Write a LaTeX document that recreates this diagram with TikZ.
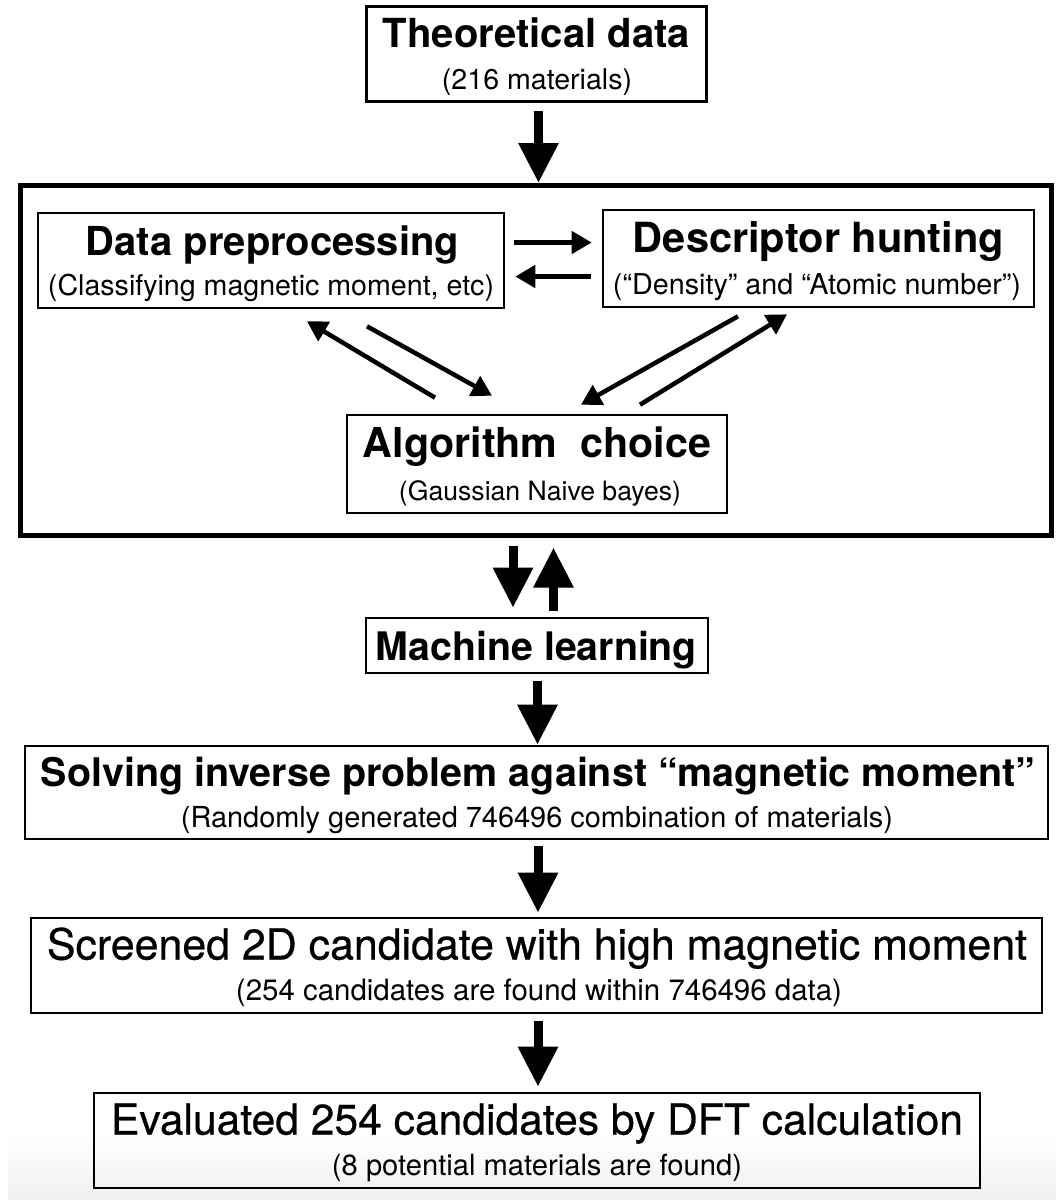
\documentclass[tikz,border=0pt]{standalone}
\usepackage{fontspec}
\setmainfont{TeX Gyre Heros}
\newfontfamily\medfont[FakeBold=0.6]{TeX Gyre Heros}
\usepackage{graphicx}
\usetikzlibrary{arrows.meta,calc}
% scale a line of text to a given width (in pt)
\newcommand\fitw[2]{\resizebox{#1pt}{!}{#2}}
\begin{document}
\begin{tikzpicture}[x=1pt,y=-1pt,
  box/.style={draw=black,line width=2.6pt,rectangle,inner sep=0pt},
  frame/.style={draw=black,line width=5pt,rectangle,inner sep=0pt},
  txt/.style={inner sep=0pt,anchor=base},
  ttl/.style={txt,font=\bfseries},
  mttl/.style={txt,font=\medfont},
  bigarrow/.style={line width=9pt,-{Triangle[width=38pt,length=40pt]}},
  smallarrow/.style={line width=4.5pt,-{Triangle[width=22pt,length=20pt]}}]
\useasboundingbox (0,0) rectangle (1056,1200);
% faint grey fade along the lower edge
\shade[top color=white,bottom color=black!6] (8,1135) rectangle (1056,1200);

% boxes
\node[box,minimum width=340pt,minimum height=95pt] (theo) at (536.7,54.2) {};
\node[frame,minimum width=1030.5pt,minimum height=349.5pt] (big) at (535.75,360.25) {};
\node[box,minimum width=466pt,minimum height=95pt] (data) at (271,260.5) {};
\node[box,minimum width=431pt,minimum height=97pt] (desc) at (818.5,258.5) {};
\node[box,minimum width=380pt,minimum height=98pt] (algo) at (537,464) {};
\node[box,minimum width=342pt,minimum height=55pt] (ml) at (537,645.5) {};
\node[box,minimum width=1023pt,minimum height=93pt] (solve) at (536.5,792.5) {};
\node[box,minimum width=1011pt,minimum height=95pt] (scr) at (536.5,965.5) {};
\node[box,minimum width=886pt,minimum height=95pt] (eval) at (537,1140.5) {};

% texts
\node[ttl] (theoT) at (536.5,47.5) {\fitw{307}{Theoretical data}};
\node[txt] (theoS) at (537,89) {\fitw{190}{(216 materials)}};
\node[ttl] (dataT) at (272.5,255.5) {\fitw{373}{Data preprocessing}};
\node[txt] (dataS) at (271,295) {\fitw{446}{(Classifying magnetic moment, etc)}};
\node[ttl] (descT) at (818.5,252.5) {\fitw{371}{Descriptor hunting}};
\node[txt] (descS) at (817,294) {\fitw{408}{(“Density” and “Atomic number”)}};
\node[ttl] (algoT) at (537,457.5) {\fitw{348}{Algorithm\ \ choice}};
\node[txt] (algoS) at (540,500) {\fitw{282}{(Gaussian Naive bayes)}};
\node[ttl] (mlT) at (536.5,660.5) {\fitw{321}{Machine learning}};
\node[ttl] (solveT) at (538,786.5) {\fitw{994}{Solving inverse problem against “magnetic moment”}};
\node[txt] (solveS) at (537,827) {\fitw{712}{(Randomly generated 746496 combination of materials)}};
\node[mttl] (scrT) at (537,959.5) {\fitw{980}{Screened 2D candidate with high magnetic moment}};
\node[txt] (scrS) at (539,1000) {\fitw{606}{(254 candidates are found within 746496 data)}};
\node[mttl] (evalT) at (537,1134.5) {\fitw{852}{Evaluated 254 candidates by DFT calculation}};
\node[txt] (evalS) at (537,1175) {\fitw{410}{(8 potential materials are found)}};

% main flow
\draw[bigarrow] ($(theo.south)+(1.8,8)$) -- ($(theo.south |- big.north)+(1.8,0)$);
\draw[bigarrow] ($(big.south -| ml.north)+(-24,8)$) -- ($(ml.north)+(-24,-9)$);
\draw[bigarrow] ($(ml.north)+(16.5,-6)$) -- ($(big.south -| ml.north)+(16.5,10)$);
\draw[bigarrow] ($(ml.south)+(0.5,7)$) -- ($(solve.north -| ml.south)+(0.5,0)$);
\draw[bigarrow] ($(solve.south)+(1.5,6)$) -- ($(scr.north)+(1.5,-4)$);
\draw[bigarrow] ($(scr.south)+(1.5,7)$) -- ($(eval.north -| scr.south)+(1.5,-5)$);

% exchanges inside the frame
\draw[smallarrow] ($(data.east)+(9,-18)$) -- ($(data.east -| desc.west)+(-10,-18)$);
\draw[smallarrow] ($(data.east -| desc.west)+(-11,16)$) -- ($(data.east)+(10,16)$);
\draw[smallarrow] ($(algo.north)+(-102,-16)$) -- ($(data.south)+(36,12)$);
\draw[smallarrow] ($(data.south)+(96,17)$) -- ($(algo.north)+(-45,-18)$);
\draw[smallarrow] ($(desc.south)+(-80.5,8)$) -- ($(algo.north)+(44,-9)$);
\draw[smallarrow] ($(algo.north)+(103,-9)$) -- ($(desc.south)+(-31.5,6)$);
\end{tikzpicture}
\end{document}
